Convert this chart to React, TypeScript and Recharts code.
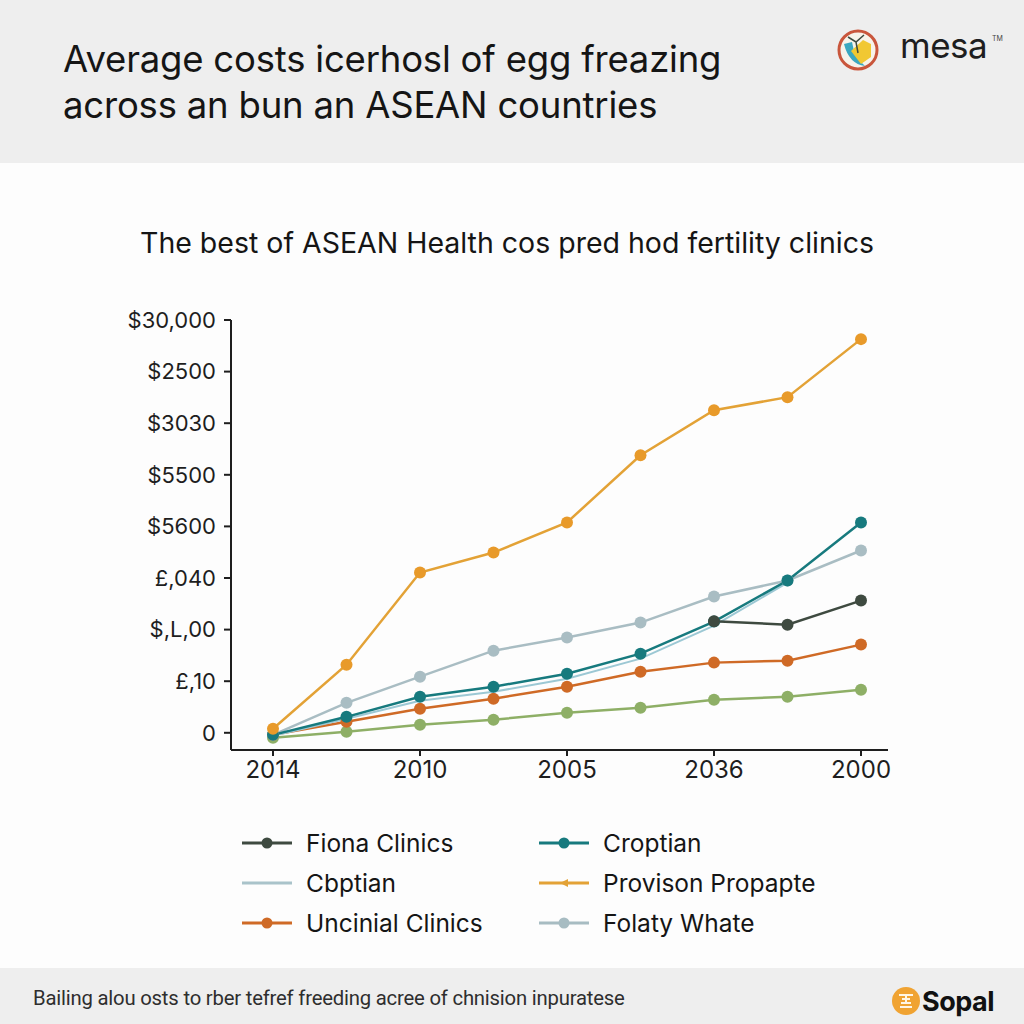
import { LineChart, Line, XAxis, YAxis } from 'recharts';

const xLabels = ['2014', '2010', '2005', '2036', '2000'];
const xIndex = [0, 1, 2, 3, 4, 5, 6, 7, 8];
const yLabels = ['0', '£,10', '$,L,00', '£,040', '$5600', '$5500', '$3030', '$2500', '$30,000'];
const yStep = 3750;

const fiona = [null, null, null, null, null, null, 8100, 7860, 9610];
const croptian = [-150, 1160, 2620, 3350, 4290, 5750, 8080, 11070, 15290];
const cbptian = [-220, 1020, 2330, 2980, 3930, 5390, 7790, 10920, null];
const provison = [290, 4950, 11650, 13100, 15290, 20170, 23440, 24390, 28610];
const uncinial = [-150, 800, 1750, 2480, 3350, 4440, 5100, 5240, 6410];
const folaty = [-150, 2180, 4080, 5970, 6920, 8010, 9900, 11070, 13250];
const other = [-360, 70, 580, 950, 1460, 1820, 2400, 2620, 3130];

const data = xIndex.map((i) => ({
  idx: i,
  fiona: fiona[i],
  croptian: croptian[i],
  cbptian: cbptian[i],
  provison: provison[i],
  uncinial: uncinial[i],
  folaty: folaty[i],
  other: other[i],
}));

const FONT = 'Inter, "Liberation Sans", Arial, sans-serif';

const legendItems = [
  { name: 'Fiona Clinics', color: '#3E4A40', marker: 'dot' },
  { name: 'Croptian', color: '#177A7E', marker: 'dot' },
  { name: 'Cbptian', color: '#A9C3CA', marker: 'none' },
  { name: 'Provison Propapte', color: '#E3A236', marker: 'arrow' },
  { name: 'Uncinial Clinics', color: '#CF6A26', marker: 'dot' },
  { name: 'Folaty Whate', color: '#A7BCC2', marker: 'dot' },
];

function LegendIcon({ color, marker }: { color: string; marker: string }) {
  return (
    <svg width={52} height={14} style={{ display: 'block' }}>
      <line x1={1} y1={7} x2={51} y2={7} stroke={color} strokeWidth={3} />
      {marker === 'dot' && <circle cx={26} cy={7} r={5.5} fill={color} />}
      {marker === 'arrow' && <path d="M22 7 L30 3 L30 11 Z" fill={color} />}
    </svg>
  );
}

export default function App() {
  const dot = (color: string) => ({ r: 6, fill: color, stroke: color, strokeWidth: 0 });
  return (
    <div style={{ position: 'relative', width: 1024, height: 1024, background: '#FDFDFD', fontFamily: FONT, color: '#151515', overflow: 'hidden' }}>
      <style>{`body{margin:0}`}</style>
      <div style={{ position: 'absolute', left: 0, top: 0, width: 1024, height: 163, background: '#EEEEEE' }} />
      <div style={{ position: 'absolute', left: 63, top: 36, fontSize: 36.5, lineHeight: '46px', fontWeight: 400, letterSpacing: -0.2 }}>
        Average costs icerhosl of egg freazing
        <br />
        across an bun an ASEAN countries
      </div>
      <svg style={{ position: 'absolute', left: 836, top: 18 }} width={184} height={66}>
        <circle cx={22} cy={32} r={19} fill="#F7F3EA" stroke="#C9563C" strokeWidth={3} />
        <path d="M8 26 Q13 46 29 48 Q18 39 16 24 Z" fill="#3BA7C0" />
        <path d="M15 33 L27 22 L35 26 L35 39 L25 46 Z" fill="#F1C832" />
        <path d="M12 19 L20 24 L28 17 M20 24 L22 35" stroke="#3E4A40" strokeWidth={1.5} fill="none" />
        <text x={64} y={40} fontSize={35} fontFamily={FONT} fill="#1E1E1E" letterSpacing={-0.5}>mesa</text>
        <text x={156} y={23} fontSize={7} fontFamily={FONT} fill="#444">TM</text>
      </svg>
      <div style={{ position: 'absolute', left: 0, width: 1014, top: 225, textAlign: 'center', fontSize: 28.5, fontWeight: 400 }}>
        The best of ASEAN Health cos pred hod fertility clinics
      </div>
      <div style={{ position: 'absolute', left: 0, top: 300 }}>
        <LineChart width={1024} height={500} data={data} margin={{ top: 20, right: 136, left: 151, bottom: 20 }}>
          <XAxis
            dataKey="idx"
            type="number"
            domain={[0, 8]}
            ticks={[0, 2, 4, 6, 8]}
            tickFormatter={(v) => xLabels[Number(v) / 2]}
            padding={{ left: 42, right: 27 }}
            height={30}
            stroke="#1E1E1E"
            strokeWidth={2}
            tickSize={6}
            tickMargin={5}
            tick={{ fontSize: 24, fill: '#1E1E1E', fontFamily: FONT }}
          />
          <YAxis
            type="number"
            domain={[-1250, 30000]}
            ticks={yLabels.map((_, i) => i * yStep)}
            tickFormatter={(v) => yLabels[Math.round(Number(v) / yStep)]}
            width={80}
            stroke="#1E1E1E"
            strokeWidth={2}
            tickSize={7}
            tickMargin={8}
            tick={{ fontSize: 22, fill: '#1E1E1E', fontFamily: FONT }}
          />
          <Line dataKey="other" stroke="#8EAF66" strokeWidth={2.5} dot={dot('#8EAF66')} isAnimationActive={false} />
          <Line dataKey="uncinial" stroke="#CF6A26" strokeWidth={2.5} dot={dot('#CF6A26')} isAnimationActive={false} />
          <Line dataKey="folaty" stroke="#A9BDC3" strokeWidth={2.5} dot={dot('#A9BDC3')} isAnimationActive={false} />
          <Line dataKey="cbptian" stroke="#9CC8D4" strokeWidth={2} dot={false} isAnimationActive={false} />
          <Line dataKey="croptian" stroke="#177A7E" strokeWidth={2.5} dot={dot('#177A7E')} isAnimationActive={false} />
          <Line dataKey="fiona" stroke="#3E4A40" strokeWidth={2.5} dot={dot('#3E4A40')} isAnimationActive={false} />
          <Line dataKey="provison" stroke="#E3A236" strokeWidth={2.5} dot={dot('#E89A2A')} isAnimationActive={false} />
        </LineChart>
      </div>
      <div style={{ position: 'absolute', left: 241, top: 827, display: 'grid', gridTemplateColumns: '297px 300px', rowGap: 8 }}>
        {legendItems.map((it) => (
          <div key={it.name} style={{ display: 'flex', alignItems: 'center', height: 32, fontSize: 24.5 }}>
            <LegendIcon color={it.color} marker={it.marker} />
            <span style={{ marginLeft: 13 }}>{it.name}</span>
          </div>
        ))}
      </div>
      <div style={{ position: 'absolute', left: 0, top: 968, width: 1024, height: 56, background: '#EEEEEE' }} />
      <div style={{ position: 'absolute', left: 33, top: 986, fontSize: 20.3, color: '#2E2E2E', fontFamily: '"Roboto", "Liberation Sans Narrow", sans-serif', letterSpacing: -0.2 }}>
        Bailing alou osts to rber tefref freeding acree of chnision inpuratese
      </div>
      <svg style={{ position: 'absolute', left: 888, top: 982 }} width={124} height={38}>
        <circle cx={18} cy={19} r={14} fill="#F0A332" />
        <path d="M11 13 L25 13 M14 17 L22 17 M18 13 L18 22 M12 25 L24 25 M13 21 L23 21" stroke="#FFF6E5" strokeWidth={2} />
        <text x={34} y={29} fontSize={27} fontWeight={700} fontFamily={FONT} fill="#111" letterSpacing={-0.5}>Sopal</text>
      </svg>
    </div>
  );
}
